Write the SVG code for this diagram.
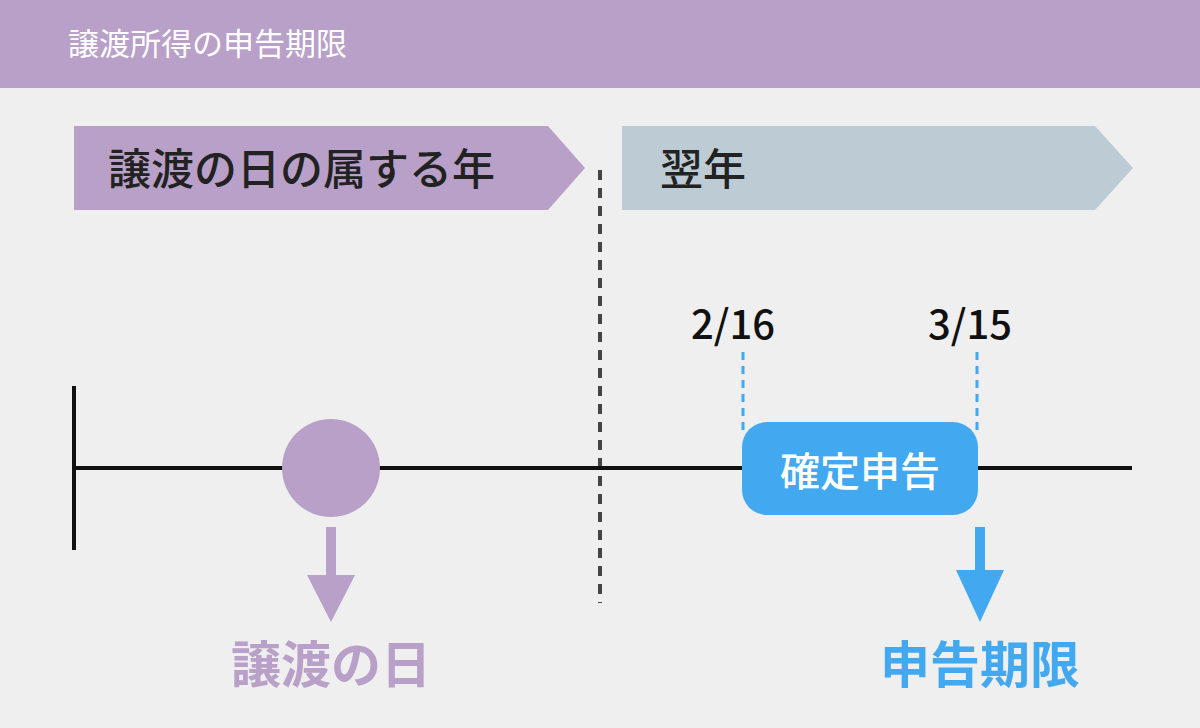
<svg xmlns="http://www.w3.org/2000/svg" width="1200" height="728" viewBox="0 0 1200 728">
<style>
text{font-family:"Noto Sans CJK JP","Noto Sans",sans-serif;font-weight:500}
text.h{font-weight:400}
text.bold{font-weight:700}
.p{fill:#b8a0c8}
.b{fill:#42a9f0}
</style>
<rect width="1200" height="728" fill="#efefef"/>
<g id="header"><rect width="1200" height="88" class="p"/><text class="h" x="68" y="55" font-size="31" fill="#fff">譲渡所得の申告期限</text></g>
<g id="banner-left"><polygon points="74,126 548,126 585,168 548,210 74,210" class="p"/><text x="108" y="185" font-size="43" fill="#222">譲渡の日の属する年</text></g>
<g id="banner-right"><polygon points="622,126 1095,126 1133,168 1095,210 622,210" fill="#bccbd4"/><text x="660" y="185" font-size="43" fill="#222">翌年</text></g>
<g id="connectors">
<line x1="600" y1="170" x2="600" y2="603" stroke="#444" stroke-width="4" stroke-dasharray="10,8"/>
<line x1="74" y1="468" x2="1132" y2="468" stroke="#111" stroke-width="4"/>
<line x1="74" y1="386" x2="74" y2="550" stroke="#111" stroke-width="4"/>
<line x1="743" y1="352" x2="743" y2="435" stroke="#42a9f0" stroke-width="3" stroke-dasharray="8,6"/>
<line x1="977" y1="352" x2="977" y2="435" stroke="#42a9f0" stroke-width="3" stroke-dasharray="8,6"/>
<rect x="326" y="527" width="10" height="50" class="p"/><polygon points="307,575 355,575 331,622" class="p"/>
<rect x="975" y="527" width="10" height="45" class="b"/><polygon points="956,570 1004,570 980,622" class="b"/>
</g>
<g id="circle"><circle cx="331" cy="468" r="49" class="p"/></g>
<g id="kakutei"><rect x="742" y="422" width="236" height="93" rx="25" class="b"/><text x="860" y="486" font-size="40" fill="#fff" text-anchor="middle">確定申告</text></g>
<g id="d1"><text x="733" y="339" font-size="40" fill="#111" text-anchor="middle">2/16</text></g>
<g id="d2"><text x="970" y="339" font-size="40" fill="#111" text-anchor="middle">3/15</text></g>
<g id="l1"><text class="bold" x="331" y="683" font-size="50" fill="#b8a0c8" text-anchor="middle">譲渡の日</text></g>
<g id="l2"><text class="bold" x="980" y="683" font-size="50" fill="#42a9f0" text-anchor="middle">申告期限</text></g>
</svg>
